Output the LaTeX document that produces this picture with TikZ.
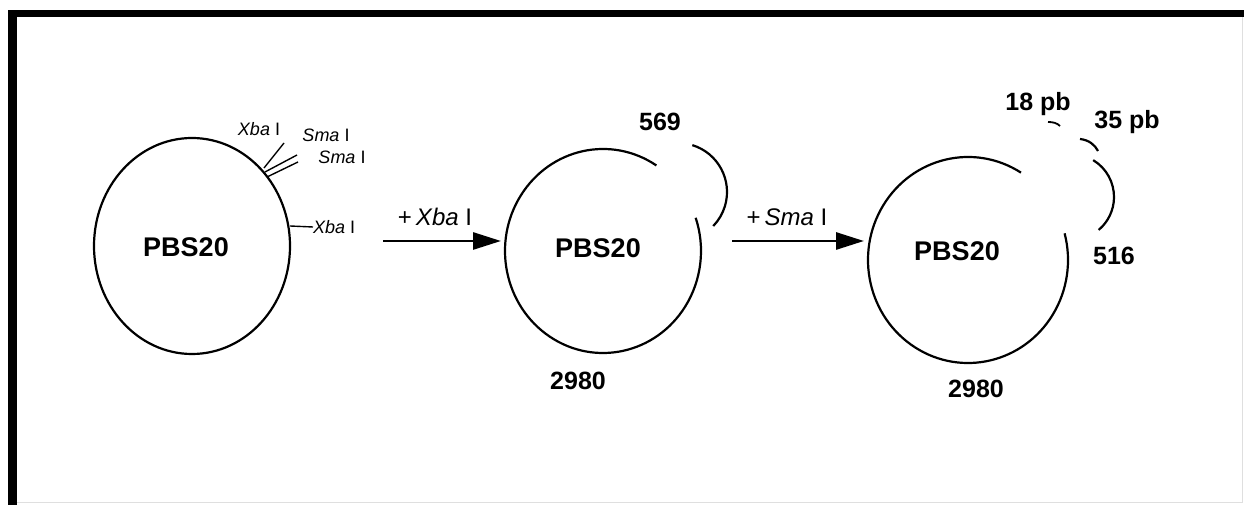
\documentclass[tikz,border=0pt]{standalone}
\usepackage{fontspec}
\setmainfont{Liberation Sans}
\usetikzlibrary{shapes.geometric,arrows.meta}
\begin{document}
\begin{tikzpicture}[x=1pt,y=1pt,
  ring/.style={line width=2.2pt},
  frag/.style={line width=2.2pt},
  tick/.style={line width=1.4pt},
  arr/.style={line width=2.8pt,-{Triangle[length=28pt,width=17pt]}},
  plas/.style={font=\bfseries\fontsize{27}{30}\selectfont,inner sep=0pt},
  num/.style={font=\bfseries\fontsize{25}{28}\selectfont,inner sep=0pt},
  enz/.style={font=\fontsize{24}{28}\selectfont,inner sep=0pt},
  site/.style={font=\fontsize{18}{20}\selectfont,inner sep=0pt},
  hidden/.style={ellipse,inner sep=0pt}]
\useasboundingbox (0,0) rectangle (1244,508);
% frame
\fill[black] (8,491) rectangle (1244,498);
\fill[black] (8,3) rectangle (17,498);
\draw[gray!25,line width=0.8pt] (17,6) -- (1242,6) -- (1242,491);

% ---- plasmid 1
\node[draw,ring,ellipse,minimum width=196pt,minimum height=216pt,inner sep=0pt] (c1) at (192,262) {};
\node[plas] (p1) at (186,261) {PBS20};
\coordinate (t1a) at (264,340); \coordinate (t1b) at (284,365);
\coordinate (t2a) at (265,336); \coordinate (t2b) at (297,353);
\coordinate (t3a) at (267,331); \coordinate (t3b) at (298,346);
\draw[tick] (t1a) -- (t1b);
\draw[tick] (t2a) -- (t2b);
\draw[tick] (t3a) -- (t3b);
\node[site] (x1) at (259,379) {\itshape Xba\upshape\ I};
\node[site] (s1) at (326,373) {\itshape Sma\upshape\ I};
\node[site] (s2) at (342,351) {\itshape Sma\upshape\ I};
\coordinate (t4a) at (290,282);
\node[site,anchor=west] (x2) at (313,281) {\itshape Xba\upshape\ I};
\draw[tick] (t4a) -- (x2.west);

% ---- arrow 1
\coordinate (a1s) at (383,267);
\coordinate (a1e) at (501,267);
\draw[arr] (a1s) -- (a1e);
\node[enz] (e1) at (435,291) {+\,\itshape Xba\upshape\ I};

% ---- plasmid 2
\node[hidden,minimum width=196pt,minimum height=204pt] (c2) at (603,257) {};
\draw[ring] (603,257) ++(57:98pt and 102pt) arc[start angle=57,end angle=379,x radius=98pt,y radius=102pt];
\draw[frag] (678,316) ++(73:49pt) arc[start angle=73,end angle=-44,radius=49pt];
\node[plas] (p2) at (598,260) {PBS20};
\node[num] (n569) at (660,386) {569};
\node[num] (n2980a) at (578,127) {2980};

% ---- arrow 2
\coordinate (a2s) at (732,267);
\coordinate (a2e) at (864,267);
\draw[arr] (a2s) -- (a2e);
\node[enz] (e2) at (787,291) {+\,\itshape Sma\upshape\ I};

% ---- plasmid 3
\node[hidden,minimum width=200pt,minimum height=206pt] (c3) at (968,248) {};
\draw[ring] (968,248) ++(58:100pt and 103pt) arc[start angle=58,end angle=375,x radius=100pt,y radius=103pt];
\draw[frag] (1071,311) ++(59:43pt) arc[start angle=59,end angle=-50,radius=43pt];
\draw[frag] (1080,369) .. controls (1089,368) and (1095,363) .. (1098,357);
\draw[frag,line width=1.8pt] (1048,386) .. controls (1053,386) and (1057,385) .. (1060,382);
\node[plas] (p3) at (957,257) {PBS20};
\node[num] (n18) at (1038,404) {18 pb};
\node[num] (n35) at (1127,386) {35 pb};
\node[num] (n516) at (1114,252) {516};
\node[num] (n2980b) at (976,119) {2980};
\end{tikzpicture}
\end{document}
